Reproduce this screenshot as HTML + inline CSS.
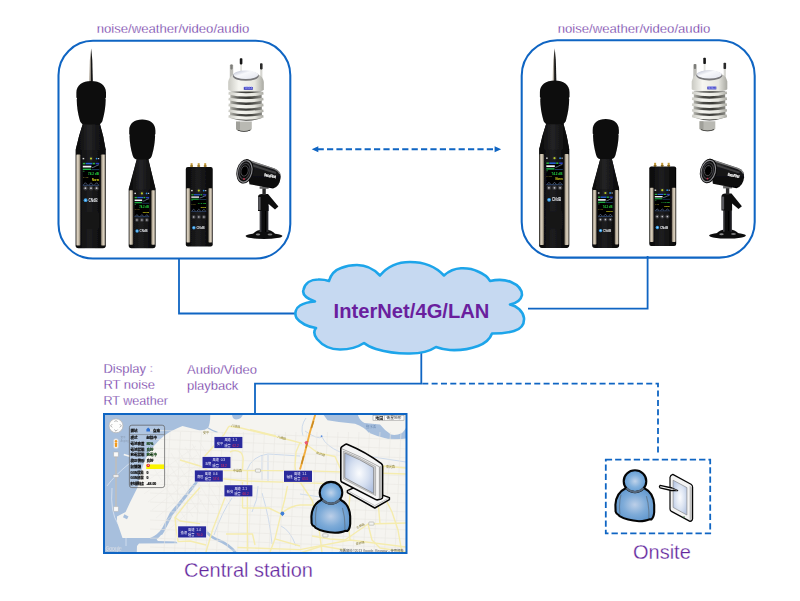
<!DOCTYPE html>
<html lang="en"><head><meta charset="utf-8"><title>Monitoring network</title>
<style>
html,body{margin:0;padding:0;background:#fff;}
body{width:800px;height:601px;overflow:hidden;font-family:"Liberation Sans","Noto Sans CJK TC",sans-serif;}
svg{display:block;}
text{font-family:"Liberation Sans","Noto Sans CJK TC",sans-serif;}
.lbl{fill:#62259c;stroke:#fff;stroke-width:0.28px;}
</style></head><body>
<svg width="800" height="601" viewBox="0 0 800 601">
<rect width="800" height="601" fill="#fff"/>
<g fill="none" stroke="#0f65c3" stroke-width="1.8">
<path d="M179 258 V313.5 H296"/>
<path d="M647.6 256 V308.6 H528"/>
<path d="M421.3 350 V383.7 H255 V413"/>
<path d="M421.3 383.7 H658 V456" stroke-dasharray="6 3.33" stroke-dashoffset="-1"/>
<rect x="605.8" y="459.6" width="104.4" height="73.8" stroke-dasharray="6.3 3.03"/>
</g>
<g fill="none" stroke="#0f65c3" stroke-width="2.05">
<rect x="58.5" y="40.8" width="231.8" height="217.7" rx="34.5" ry="34.5"/>
<rect x="521.7" y="40.2" width="233" height="217.4" rx="35.5" ry="35.5"/>
<path d="M317.6 149.25 H496" stroke-dasharray="6.2 3.2" stroke-width="1.9"/>
</g>
<path d="M311.7 149.25 l6.6 -3 v6z M501.2 149.25 l-6.6 -3 v6z" fill="#0f65c3"/>
<path d="M315 301.5 C308 299 302 295 303.4 290 C305 283 311 279.5 318 279.5 C322 279.3 326 280 329 281 C331 274 335 270 341 268 C347 265.5 352 265 357 265 C366 265 374 269 380 275.5 C387 267 397 262 410 262 C424 262 436 267 444 275.5 C449 271 454 268.6 461 268.3 C468 268 473 269 478 271.5 C484 274 488 277 490 281 C497 279.5 505 279.5 511 282 C518 285 522 289 522 295 C521 300 517 303 510 304.5 C517 306 523 311 524 318 C524.5 325 521 329 514 331 C507 333 500 333.5 492 333.5 C490 339 486 343 478 346 C470 349 460 350.5 450 350 C445 349.7 440 348.5 436 347 C430 351 420 353.5 410 353.5 C398 353.8 386 352 376 349 C371 347.5 367 345.5 364 343 C358 347 350 349.5 340 349.5 C330 349.5 322 345 317 339 C314 335 313.5 331 316 328 C308 327 300 323 296.5 318 C294 313 296 308 300 305.5 C304 303 309 302 315 301.5 Z" fill="#c6d9f1" stroke="#1da5ea" stroke-width="2.6" stroke-linejoin="round"/>
<text x="333.6" y="317.5" textLength="155.8" lengthAdjust="spacingAndGlyphs" font-size="20.2" font-weight="bold" fill="#6a1f9e">InterNet/4G/LAN</text>
<g class="lbl" font-size="13.2">
<text x="96.7" y="32.6" textLength="152.5" lengthAdjust="spacingAndGlyphs">noise/weather/video/audio</text>
<text x="557.7" y="32.6" textLength="152.5" lengthAdjust="spacingAndGlyphs">noise/weather/video/audio</text>
</g>
<g class="lbl" font-size="13">
<text x="103.4" y="373">Display<tspan font-size="8.2" dx="1.2" dy="-0.8">：</tspan></text>
<text x="103.4" y="389.2">RT noise</text>
<text x="103.4" y="405.2" textLength="64.6" lengthAdjust="spacingAndGlyphs">RT weather</text>
<text x="187" y="374.2">Audio/Video</text>
<text x="187" y="389.6">playback</text>
</g>
<g class="lbl" font-size="20">
<text x="184" y="577">Central station</text>
<text x="633" y="559">Onsite</text>
</g>
<defs>
<linearGradient id="gSilL" x1="0" x2="1" y1="0" y2="0"><stop offset="0" stop-color="#6b655b"/><stop offset="0.35" stop-color="#ded4c3"/><stop offset="0.7" stop-color="#bdb29e"/><stop offset="1" stop-color="#5f594f"/></linearGradient>
<linearGradient id="gSilR" x1="0" x2="1" y1="0" y2="0"><stop offset="0" stop-color="#5f594f"/><stop offset="0.3" stop-color="#bdb29e"/><stop offset="0.65" stop-color="#ded4c3"/><stop offset="1" stop-color="#6b655b"/></linearGradient>
<linearGradient id="gBody" x1="0" x2="1" y1="0" y2="0"><stop offset="0" stop-color="#060606"/><stop offset="0.45" stop-color="#1e1e20"/><stop offset="1" stop-color="#050505"/></linearGradient>
<linearGradient id="gCone" x1="0" x2="1" y1="0" y2="0"><stop offset="0" stop-color="#080808"/><stop offset="0.45" stop-color="#242426"/><stop offset="1" stop-color="#060606"/></linearGradient>
<linearGradient id="gSpike" x1="0" x2="1" y1="0" y2="0"><stop offset="0" stop-color="#d9d2c6"/><stop offset="0.45" stop-color="#8b857c"/><stop offset="0.55" stop-color="#111"/><stop offset="1" stop-color="#222"/></linearGradient>
<radialGradient id="gFoam" cx="0.5" cy="0.45" r="0.6"><stop offset="0" stop-color="#161616"/><stop offset="1" stop-color="#040404"/></radialGradient>
<filter id="soft" x="-5%" y="-5%" width="110%" height="110%"><feGaussianBlur stdDeviation="0.35"/></filter>
<filter id="soft2" x="-5%" y="-5%" width="110%" height="110%"><feGaussianBlur stdDeviation="0.25"/></filter>
</defs>
<g><g filter="url(#soft)">
<path d="M91.2 48.6 L92.3 60 L92.9 81.5 L88.9 81.5 L89.8 60 Z" fill="url(#gSpike)"/>
<path d="M83.4 122 L99.4 122 Q103.6 136 105.8 150 L105.8 245.5 Q105.8 248.3 103 248.3 L78.4 248.3 Q75.6 248.3 75.6 245.5 L75.6 150 Q78.6 136 83.4 122 Z" fill="url(#gBody)"/>
<path d="M83.4 122 L99.4 122 Q103.6 136 105.6 150 L75.8 150 Q78.6 136 83.4 122 Z" fill="url(#gCone)"/>
<path d="M91.2 80.9 C100 80.9 106 85 106 92.6 L106 97.4 L105.3 98.5 L105.7 99.6 C105.6 107 104.4 114 102.8 119.6 Q102 123.8 98.6 124.6 L83.8 124.6 Q80.4 123.8 79.6 119.6 C78 114 76.8 107 76.7 99.6 L77.1 98.5 L76.4 97.4 L76.4 92.6 C76.4 85 82.4 80.9 91.2 80.9 Z" fill="#0a0a0a"/>
<rect x="76.00" y="154.50" width="4.53" height="91.00" rx="0.8" fill="url(#gSilL)"/>
<rect x="100.87" y="154.50" width="4.53" height="91.00" rx="0.8" fill="url(#gSilR)"/>
<rect x="82.60" y="157.90" width="1.6" height="1.4" fill="#d8d8d8"/>
<circle cx="91.00" cy="158.60" r="2.4" fill="#242427"/>
<circle cx="91.00" cy="158.60" r="1.1" fill="#b5c72a"/>
<circle cx="96.60" cy="158.60" r="0.9" fill="#2f8fe0"/>
<rect x="98.00" y="158.00" width="1.2" height="1.2" fill="#bfc4cc"/>
<rect x="82.80" y="162.80" width="16.40" height="22.40" fill="#020204"/>
<rect x="82.80" y="162.80" width="2.62" height="1.57" fill="#2fb344"/>
<rect x="85.75" y="162.80" width="6.56" height="1.57" fill="#2a63d8"/>
<rect x="92.64" y="162.80" width="2.30" height="1.57" fill="#2fb344"/>
<rect x="95.59" y="162.80" width="3.61" height="1.57" fill="#2a3fc0"/>
<rect x="82.80" y="165.71" width="8.53" height="1.79" fill="#f4f6fa"/>
<rect x="82.80" y="168.62" width="8.20" height="1.34" fill="#22c04a"/>
<path d="M91.98 167.73 q1.97 -0.45 3.28 -1.34 t3.61 -1.57" fill="none" stroke="#7f97b0" stroke-width="0.7"/>
<rect x="91.33" y="169.52" width="7.87" height="0.56" fill="#3b6ea8"/>
<rect x="82.80" y="170.86" width="1.64" height="0.67" fill="#2a9d3f"/>
<text x="99.04" y="175.34" font-size="3.14" font-weight="bold" text-anchor="end" fill="#23d13c">74.2 dB</text>
<text x="82.96" y="177.58" font-size="2.24" fill="#b7a42a">LAeq</text>
<text x="99.04" y="180.72" font-size="2.69" font-weight="bold" text-anchor="end" fill="#e8e21c">Norm</text>
<path d="M83.46 184.80 L85.42 182.74 L87.39 184.80" fill="none" stroke="#7f93b8" stroke-width="0.55"/>
<path d="M89.03 184.80 L91.00 182.74 L92.97 184.80" fill="none" stroke="#7f93b8" stroke-width="0.55"/>
<path d="M94.61 184.80 L96.58 182.74 L98.54 184.80" fill="none" stroke="#7f93b8" stroke-width="0.55"/>
<rect x="82.80" y="184.86" width="16.40" height="0.67" fill="#3f5f93"/>
<circle cx="85.42" cy="188.20" r="2.21" fill="#3d3d41"/>
<circle cx="85.42" cy="188.20" r="0.90" fill="#c4c4c8"/>
<circle cx="91.00" cy="188.20" r="2.21" fill="#3d3d41"/>
<circle cx="91.00" cy="188.20" r="0.90" fill="#c4c4c8"/>
<circle cx="96.58" cy="188.20" r="2.21" fill="#3d3d41"/>
<circle cx="96.58" cy="188.20" r="0.90" fill="#c4c4c8"/>
<circle cx="85.59" cy="200.20" r="1.89" fill="#3aa0e8"/>
<circle cx="85.59" cy="200.20" r="0.82" fill="#9fd4ff"/>
<text x="88.38" y="201.84" font-size="4.43" font-weight="bold" fill="#e8eaee" textLength="9.18" lengthAdjust="spacingAndGlyphs">CNdB</text>
<rect x="83.2" y="212" width="15.4" height="17" rx="2" fill="#131315" stroke="#1c1c1e" stroke-width="0.5"/>
<path d="M137.4 157 L147.8 157 L155.6 189 L155.6 245.6 Q155.6 248.3 152.9 248.3 L131.4 248.3 Q128.7 248.3 128.7 245.6 L128.7 189 Z" fill="url(#gBody)"/>
<path d="M137.4 157 L147.8 157 L155.4 189.5 L128.9 189.5 Z" fill="url(#gCone)"/>
<path d="M142.2 119.5 C149.8 119.5 155.4 123.2 155.4 130.4 L155.4 134 L154.8 135 L155.1 136 C155 142 153.8 149 152.2 154.6 Q151.4 158.6 148.4 159.4 L136.2 159.4 Q133.2 158.6 132.4 154.6 C130.8 149 129.6 142 129.5 136 L129.8 135 L129.2 134 L129.2 130.4 C129.2 123.2 134.6 119.5 142.2 119.5 Z" fill="#0a0a0a"/>
<rect x="129.10" y="190.30" width="4.04" height="54.50" rx="0.8" fill="url(#gSilL)"/>
<rect x="151.16" y="190.30" width="4.04" height="54.50" rx="0.8" fill="url(#gSilR)"/>
<rect x="134.40" y="192.70" width="1.6" height="1.4" fill="#d8d8d8"/>
<circle cx="141.90" cy="193.40" r="2.4" fill="#242427"/>
<circle cx="141.90" cy="193.40" r="1.1" fill="#b5c72a"/>
<circle cx="146.60" cy="193.40" r="0.9" fill="#2f8fe0"/>
<rect x="148.00" y="192.80" width="1.2" height="1.2" fill="#bfc4cc"/>
<rect x="134.60" y="196.90" width="14.60" height="19.90" fill="#020204"/>
<rect x="134.60" y="196.90" width="2.34" height="1.39" fill="#2fb344"/>
<rect x="137.23" y="196.90" width="5.84" height="1.39" fill="#2a63d8"/>
<rect x="143.36" y="196.90" width="2.04" height="1.39" fill="#2fb344"/>
<rect x="145.99" y="196.90" width="3.21" height="1.39" fill="#2a3fc0"/>
<rect x="134.60" y="199.49" width="7.59" height="1.59" fill="#f4f6fa"/>
<rect x="134.60" y="202.07" width="7.30" height="1.19" fill="#22c04a"/>
<path d="M142.78 201.28 q1.75 -0.40 2.92 -1.19 t3.21 -1.39" fill="none" stroke="#7f97b0" stroke-width="0.7"/>
<rect x="142.19" y="202.87" width="7.01" height="0.50" fill="#3b6ea8"/>
<rect x="134.60" y="204.06" width="1.46" height="0.60" fill="#2a9d3f"/>
<text x="149.05" y="208.04" font-size="2.79" font-weight="bold" text-anchor="end" fill="#23d13c">74.2 dB</text>
<text x="134.75" y="210.03" font-size="1.99" fill="#b7a42a">LAeq</text>
<text x="149.05" y="212.82" font-size="2.39" font-weight="bold" text-anchor="end" fill="#e8e21c">Norm</text>
<path d="M135.18 216.40 L136.94 214.61 L138.69 216.40" fill="none" stroke="#7f93b8" stroke-width="0.55"/>
<path d="M140.15 216.40 L141.90 214.61 L143.65 216.40" fill="none" stroke="#7f93b8" stroke-width="0.55"/>
<path d="M145.11 216.40 L146.86 214.61 L148.62 216.40" fill="none" stroke="#7f93b8" stroke-width="0.55"/>
<rect x="134.60" y="216.50" width="14.60" height="0.60" fill="#3f5f93"/>
<circle cx="136.94" cy="220.00" r="1.97" fill="#3d3d41"/>
<circle cx="136.94" cy="220.00" r="0.80" fill="#c4c4c8"/>
<circle cx="141.90" cy="220.00" r="1.97" fill="#3d3d41"/>
<circle cx="141.90" cy="220.00" r="0.80" fill="#c4c4c8"/>
<circle cx="146.86" cy="220.00" r="1.97" fill="#3d3d41"/>
<circle cx="146.86" cy="220.00" r="0.80" fill="#c4c4c8"/>
<circle cx="137.08" cy="231.00" r="1.68" fill="#3aa0e8"/>
<circle cx="137.08" cy="231.00" r="0.73" fill="#9fd4ff"/>
<text x="139.56" y="232.46" font-size="3.94" font-weight="bold" fill="#e8eaee" textLength="8.18" lengthAdjust="spacingAndGlyphs">CNdB</text>
<rect x="190.60" y="163.2" width="2" height="4.2" fill="#c39a3a"/>
<rect x="190.20" y="165.4" width="2.8" height="1.2" fill="#8a6a20"/>
<rect x="197.70" y="163.2" width="2" height="4.2" fill="#c39a3a"/>
<rect x="197.30" y="165.4" width="2.8" height="1.2" fill="#8a6a20"/>
<rect x="204.20" y="163.2" width="2" height="4.2" fill="#c39a3a"/>
<rect x="203.80" y="165.4" width="2.8" height="1.2" fill="#8a6a20"/>
<rect x="185.8" y="166.9" width="26.9" height="79.6" rx="2" fill="url(#gBody)"/>
<rect x="186.20" y="188.20" width="4.03" height="54.30" rx="0.8" fill="url(#gSilL)"/>
<rect x="208.26" y="188.20" width="4.03" height="54.30" rx="0.8" fill="url(#gSilR)"/>
<rect x="191.10" y="189.90" width="1.6" height="1.4" fill="#d8d8d8"/>
<circle cx="198.80" cy="190.60" r="2.4" fill="#242427"/>
<circle cx="198.80" cy="190.60" r="1.1" fill="#b5c72a"/>
<circle cx="203.70" cy="190.60" r="0.9" fill="#2f8fe0"/>
<rect x="205.10" y="190.00" width="1.2" height="1.2" fill="#bfc4cc"/>
<rect x="191.30" y="194.20" width="15.00" height="17.10" fill="#020204"/>
<rect x="191.30" y="194.20" width="2.40" height="1.20" fill="#2fb344"/>
<rect x="194.00" y="194.20" width="6.00" height="1.20" fill="#2a63d8"/>
<rect x="200.30" y="194.20" width="2.10" height="1.20" fill="#2fb344"/>
<rect x="203.00" y="194.20" width="3.30" height="1.20" fill="#2a3fc0"/>
<rect x="191.30" y="196.42" width="7.80" height="1.37" fill="#f4f6fa"/>
<rect x="191.30" y="198.65" width="7.50" height="1.03" fill="#22c04a"/>
<path d="M199.70 197.96 q1.80 -0.34 3.00 -1.03 t3.30 -1.20" fill="none" stroke="#7f97b0" stroke-width="0.7"/>
<rect x="199.10" y="199.33" width="7.20" height="0.43" fill="#3b6ea8"/>
<rect x="191.30" y="200.36" width="1.50" height="0.51" fill="#2a9d3f"/>
<text x="206.15" y="203.78" font-size="2.39" font-weight="bold" text-anchor="end" fill="#23d13c">74.2 dB</text>
<text x="191.45" y="205.49" font-size="1.71" fill="#b7a42a">LAeq</text>
<text x="206.15" y="207.88" font-size="2.05" font-weight="bold" text-anchor="end" fill="#e8e21c">Norm</text>
<path d="M191.90 210.90 L193.70 209.42 L195.50 210.90" fill="none" stroke="#7f93b8" stroke-width="0.55"/>
<path d="M197.00 210.90 L198.80 209.42 L200.60 210.90" fill="none" stroke="#7f93b8" stroke-width="0.55"/>
<path d="M202.10 210.90 L203.90 209.42 L205.70 210.90" fill="none" stroke="#7f93b8" stroke-width="0.55"/>
<rect x="191.30" y="211.04" width="15.00" height="0.51" fill="#3f5f93"/>
<circle cx="193.70" cy="217.00" r="2.03" fill="#3d3d41"/>
<circle cx="193.70" cy="217.00" r="0.82" fill="#c4c4c8"/>
<circle cx="198.80" cy="217.00" r="2.03" fill="#3d3d41"/>
<circle cx="198.80" cy="217.00" r="0.82" fill="#c4c4c8"/>
<circle cx="203.90" cy="217.00" r="2.03" fill="#3d3d41"/>
<circle cx="203.90" cy="217.00" r="0.82" fill="#c4c4c8"/>
<circle cx="193.85" cy="227.80" r="1.73" fill="#3aa0e8"/>
<circle cx="193.85" cy="227.80" r="0.75" fill="#9fd4ff"/>
<text x="196.40" y="229.30" font-size="4.05" font-weight="bold" fill="#e8eaee" textLength="8.40" lengthAdjust="spacingAndGlyphs">CNdB</text>
<linearGradient id="gW" x1="0" x2="1" y1="0" y2="0"><stop offset="0" stop-color="#c9c9c2"/><stop offset="0.3" stop-color="#f6f6f1"/><stop offset="0.75" stop-color="#e6e6df"/><stop offset="1" stop-color="#a9a9a2"/></linearGradient>
<linearGradient id="gWd" x1="0" x2="1" y1="0" y2="1"><stop offset="0" stop-color="#b4b9cc"/><stop offset="0.4" stop-color="#f7f8fb"/><stop offset="1" stop-color="#e3e5ee"/></linearGradient>
<rect x="229.8" y="64.4" width="3.4" height="18" rx="1" fill="#bdbdb8"/>
<rect x="230.4" y="64.4" width="2.2" height="5" rx="0.8" fill="#7d7d7a"/>
<rect x="240.2" y="63" width="1.8" height="10" fill="#e4e4e0"/>
<rect x="239.8" y="58.2" width="2.6" height="6.2" rx="0.8" fill="#151515"/>
<rect x="260.2" y="68" width="2.2" height="14" fill="#d6d6d1"/>
<rect x="260" y="63.2" width="2.6" height="6.2" rx="0.8" fill="#2a2a2a"/>
<path d="M228.2 82 Q229 77 233.6 74.6 L258.4 74.6 Q263 77 263.8 82 L263.8 89.4 Q263.6 91.8 246 92.6 Q228.4 91.8 228.2 89.4 Z" fill="url(#gW)"/>
<ellipse cx="245.8" cy="76" rx="13" ry="4.8" fill="#77777a"/>
<ellipse cx="245.8" cy="74.8" rx="12.4" ry="4.2" fill="url(#gWd)"/>
<rect x="243.8" y="87" width="9" height="2.8" fill="#3838b4"/>
<text x="244.4" y="89.3" font-size="2.6" font-weight="bold" fill="#9fa6ff" textLength="7.8" lengthAdjust="spacingAndGlyphs">VAISALA</text>
<linearGradient id="gFd" x1="0" x2="1" y1="0" y2="0"><stop offset="0" stop-color="#b5b5ae"/><stop offset="0.3" stop-color="#4a4a46"/><stop offset="0.6" stop-color="#3a3a36"/><stop offset="1" stop-color="#8a8a84"/></linearGradient>
<path d="M230.4 91.6 L261.6 91.6 L262 118 Q246 123.6 230 118 Z" fill="url(#gFd)"/>
<path d="M228.8 91.8 Q246 94.6 263.2 91.8 L263.6 94.4 Q246 98.8 228.4 94.4 Z" fill="url(#gW)"/>
<path d="M228.8 97.7 Q246 100.5 263.2 97.7 L263.6 100.3 Q246 104.7 228.4 100.3 Z" fill="url(#gW)"/>
<path d="M228.8 103.6 Q246 106.4 263.2 103.6 L263.6 106.2 Q246 110.6 228.4 106.2 Z" fill="url(#gW)"/>
<path d="M228.8 109.4 Q246 112.2 263.2 109.4 L263.6 112.0 Q246 116.4 228.4 112.0 Z" fill="url(#gW)"/>
<path d="M228.8 115.0 Q246 117.8 263.2 115.0 L263.6 117.6 Q246 122.0 228.4 117.6 Z" fill="url(#gW)"/>
<path d="M236 121.6 L251.8 121.6 L251.8 128.6 Q251.8 131.6 244 131.6 Q236 131.6 236 128.6 Z" fill="#b9b9b3"/>
<path d="M237.4 129.4 Q244 132.6 250.6 129.4 L250.2 130.4 Q244 133 237.8 130.4 Z" fill="#2a2a28"/>
<rect x="236" y="121.6" width="4" height="8" fill="#8f8f89" opacity="0.6"/>
<linearGradient id="gCam" x1="0" x2="0" y1="0" y2="1"><stop offset="0" stop-color="#4a4a4c"/><stop offset="0.3" stop-color="#1a1a1c"/><stop offset="1" stop-color="#050505"/></linearGradient>
<linearGradient id="gPole" x1="0" x2="1" y1="0" y2="0"><stop offset="0" stop-color="#55555a"/><stop offset="0.3" stop-color="#0a0a0a"/><stop offset="0.7" stop-color="#050505"/><stop offset="1" stop-color="#3a3a3e"/></linearGradient>
<ellipse cx="264" cy="236" rx="18.4" ry="3" fill="#0a0a0a"/>
<path d="M252 235 Q256 229.6 264 229.6 Q272 229.6 276 235 Z" fill="#111"/>
<ellipse cx="258" cy="234.6" rx="2.2" ry="1" fill="#8a8a8a"/>
<ellipse cx="270" cy="234.4" rx="2.4" ry="1" fill="#7a7a7a"/>
<rect x="259.6" y="206" width="8.8" height="26" fill="url(#gPole)"/>
<path d="M258 197 Q258 194 262 194 L268 194 L278.4 206.6 L275 209.4 L268.6 204 L268.6 211 L258 211 Z" fill="#0c0c0c"/>
<rect x="258.2" y="197" width="2.4" height="13" fill="#5a5a5e"/>
<rect x="262.4" y="186" width="3.4" height="9" fill="#2a2a2a"/>
<rect x="259.6" y="186.4" width="9" height="2.4" fill="#6a6a6a"/>
<path d="M246 159 L274.6 168.4 Q281.4 171 280.6 178 Q279.6 186.6 273 188.6 L249.4 184.2 Z" fill="url(#gCam)"/>
<path d="M248 160.4 L274.4 169 Q278.6 170.6 280 174" fill="none" stroke="#a0a0a0" stroke-width="1.3" opacity="0.75"/>
<path d="M251 165 L276 173" fill="none" stroke="#5a5a5c" stroke-width="2" opacity="0.6"/>
<ellipse cx="245" cy="171.4" rx="8.4" ry="12.4" transform="rotate(14 245 171.4)" fill="#0a0a0a"/>
<ellipse cx="244.8" cy="171.4" rx="7" ry="10.8" transform="rotate(14 244.8 171.4)" fill="none" stroke="#8a8a8e" stroke-width="1.2"/>
<ellipse cx="244.7" cy="171.2" rx="5.2" ry="8" transform="rotate(14 244.7 171.2)" fill="none" stroke="#3e3e42" stroke-width="1.2"/>
<ellipse cx="244.6" cy="171" rx="3.6" ry="5.2" transform="rotate(14 244.6 171)" fill="#050505" stroke="#4c4c50" stroke-width="0.9"/>
<circle cx="244" cy="179" r="0.9" fill="#c0304a"/>
<text x="264" y="176" font-size="4" font-weight="bold" fill="#f4f4f4" stroke="#f4f4f4" stroke-width="0.3" textLength="11.8" lengthAdjust="spacingAndGlyphs" transform="rotate(11 264 176)">SecuFirst</text>
</g></g>
<g transform="translate(463.5,-0.4)"><g filter="url(#soft)">
<path d="M91.2 48.6 L92.3 60 L92.9 81.5 L88.9 81.5 L89.8 60 Z" fill="url(#gSpike)"/>
<path d="M83.4 122 L99.4 122 Q103.6 136 105.8 150 L105.8 245.5 Q105.8 248.3 103 248.3 L78.4 248.3 Q75.6 248.3 75.6 245.5 L75.6 150 Q78.6 136 83.4 122 Z" fill="url(#gBody)"/>
<path d="M83.4 122 L99.4 122 Q103.6 136 105.6 150 L75.8 150 Q78.6 136 83.4 122 Z" fill="url(#gCone)"/>
<path d="M91.2 80.9 C100 80.9 106 85 106 92.6 L106 97.4 L105.3 98.5 L105.7 99.6 C105.6 107 104.4 114 102.8 119.6 Q102 123.8 98.6 124.6 L83.8 124.6 Q80.4 123.8 79.6 119.6 C78 114 76.8 107 76.7 99.6 L77.1 98.5 L76.4 97.4 L76.4 92.6 C76.4 85 82.4 80.9 91.2 80.9 Z" fill="#0a0a0a"/>
<rect x="76.00" y="154.50" width="4.53" height="91.00" rx="0.8" fill="url(#gSilL)"/>
<rect x="100.87" y="154.50" width="4.53" height="91.00" rx="0.8" fill="url(#gSilR)"/>
<rect x="82.60" y="157.90" width="1.6" height="1.4" fill="#d8d8d8"/>
<circle cx="91.00" cy="158.60" r="2.4" fill="#242427"/>
<circle cx="91.00" cy="158.60" r="1.1" fill="#b5c72a"/>
<circle cx="96.60" cy="158.60" r="0.9" fill="#2f8fe0"/>
<rect x="98.00" y="158.00" width="1.2" height="1.2" fill="#bfc4cc"/>
<rect x="82.80" y="162.80" width="16.40" height="22.40" fill="#020204"/>
<rect x="82.80" y="162.80" width="2.62" height="1.57" fill="#2fb344"/>
<rect x="85.75" y="162.80" width="6.56" height="1.57" fill="#2a63d8"/>
<rect x="92.64" y="162.80" width="2.30" height="1.57" fill="#2fb344"/>
<rect x="95.59" y="162.80" width="3.61" height="1.57" fill="#2a3fc0"/>
<rect x="82.80" y="165.71" width="8.53" height="1.79" fill="#f4f6fa"/>
<rect x="82.80" y="168.62" width="8.20" height="1.34" fill="#22c04a"/>
<path d="M91.98 167.73 q1.97 -0.45 3.28 -1.34 t3.61 -1.57" fill="none" stroke="#7f97b0" stroke-width="0.7"/>
<rect x="91.33" y="169.52" width="7.87" height="0.56" fill="#3b6ea8"/>
<rect x="82.80" y="170.86" width="1.64" height="0.67" fill="#2a9d3f"/>
<text x="99.04" y="175.34" font-size="3.14" font-weight="bold" text-anchor="end" fill="#23d13c">74.2 dB</text>
<text x="82.96" y="177.58" font-size="2.24" fill="#b7a42a">LAeq</text>
<text x="99.04" y="180.72" font-size="2.69" font-weight="bold" text-anchor="end" fill="#e8e21c">Norm</text>
<path d="M83.46 184.80 L85.42 182.74 L87.39 184.80" fill="none" stroke="#7f93b8" stroke-width="0.55"/>
<path d="M89.03 184.80 L91.00 182.74 L92.97 184.80" fill="none" stroke="#7f93b8" stroke-width="0.55"/>
<path d="M94.61 184.80 L96.58 182.74 L98.54 184.80" fill="none" stroke="#7f93b8" stroke-width="0.55"/>
<rect x="82.80" y="184.86" width="16.40" height="0.67" fill="#3f5f93"/>
<circle cx="85.42" cy="188.20" r="2.21" fill="#3d3d41"/>
<circle cx="85.42" cy="188.20" r="0.90" fill="#c4c4c8"/>
<circle cx="91.00" cy="188.20" r="2.21" fill="#3d3d41"/>
<circle cx="91.00" cy="188.20" r="0.90" fill="#c4c4c8"/>
<circle cx="96.58" cy="188.20" r="2.21" fill="#3d3d41"/>
<circle cx="96.58" cy="188.20" r="0.90" fill="#c4c4c8"/>
<circle cx="85.59" cy="200.20" r="1.89" fill="#3aa0e8"/>
<circle cx="85.59" cy="200.20" r="0.82" fill="#9fd4ff"/>
<text x="88.38" y="201.84" font-size="4.43" font-weight="bold" fill="#e8eaee" textLength="9.18" lengthAdjust="spacingAndGlyphs">CNdB</text>
<rect x="83.2" y="212" width="15.4" height="17" rx="2" fill="#131315" stroke="#1c1c1e" stroke-width="0.5"/>
<path d="M137.4 157 L147.8 157 L155.6 189 L155.6 245.6 Q155.6 248.3 152.9 248.3 L131.4 248.3 Q128.7 248.3 128.7 245.6 L128.7 189 Z" fill="url(#gBody)"/>
<path d="M137.4 157 L147.8 157 L155.4 189.5 L128.9 189.5 Z" fill="url(#gCone)"/>
<path d="M142.2 119.5 C149.8 119.5 155.4 123.2 155.4 130.4 L155.4 134 L154.8 135 L155.1 136 C155 142 153.8 149 152.2 154.6 Q151.4 158.6 148.4 159.4 L136.2 159.4 Q133.2 158.6 132.4 154.6 C130.8 149 129.6 142 129.5 136 L129.8 135 L129.2 134 L129.2 130.4 C129.2 123.2 134.6 119.5 142.2 119.5 Z" fill="#0a0a0a"/>
<rect x="129.10" y="190.30" width="4.04" height="54.50" rx="0.8" fill="url(#gSilL)"/>
<rect x="151.16" y="190.30" width="4.04" height="54.50" rx="0.8" fill="url(#gSilR)"/>
<rect x="134.40" y="192.70" width="1.6" height="1.4" fill="#d8d8d8"/>
<circle cx="141.90" cy="193.40" r="2.4" fill="#242427"/>
<circle cx="141.90" cy="193.40" r="1.1" fill="#b5c72a"/>
<circle cx="146.60" cy="193.40" r="0.9" fill="#2f8fe0"/>
<rect x="148.00" y="192.80" width="1.2" height="1.2" fill="#bfc4cc"/>
<rect x="134.60" y="196.90" width="14.60" height="19.90" fill="#020204"/>
<rect x="134.60" y="196.90" width="2.34" height="1.39" fill="#2fb344"/>
<rect x="137.23" y="196.90" width="5.84" height="1.39" fill="#2a63d8"/>
<rect x="143.36" y="196.90" width="2.04" height="1.39" fill="#2fb344"/>
<rect x="145.99" y="196.90" width="3.21" height="1.39" fill="#2a3fc0"/>
<rect x="134.60" y="199.49" width="7.59" height="1.59" fill="#f4f6fa"/>
<rect x="134.60" y="202.07" width="7.30" height="1.19" fill="#22c04a"/>
<path d="M142.78 201.28 q1.75 -0.40 2.92 -1.19 t3.21 -1.39" fill="none" stroke="#7f97b0" stroke-width="0.7"/>
<rect x="142.19" y="202.87" width="7.01" height="0.50" fill="#3b6ea8"/>
<rect x="134.60" y="204.06" width="1.46" height="0.60" fill="#2a9d3f"/>
<text x="149.05" y="208.04" font-size="2.79" font-weight="bold" text-anchor="end" fill="#23d13c">74.2 dB</text>
<text x="134.75" y="210.03" font-size="1.99" fill="#b7a42a">LAeq</text>
<text x="149.05" y="212.82" font-size="2.39" font-weight="bold" text-anchor="end" fill="#e8e21c">Norm</text>
<path d="M135.18 216.40 L136.94 214.61 L138.69 216.40" fill="none" stroke="#7f93b8" stroke-width="0.55"/>
<path d="M140.15 216.40 L141.90 214.61 L143.65 216.40" fill="none" stroke="#7f93b8" stroke-width="0.55"/>
<path d="M145.11 216.40 L146.86 214.61 L148.62 216.40" fill="none" stroke="#7f93b8" stroke-width="0.55"/>
<rect x="134.60" y="216.50" width="14.60" height="0.60" fill="#3f5f93"/>
<circle cx="136.94" cy="220.00" r="1.97" fill="#3d3d41"/>
<circle cx="136.94" cy="220.00" r="0.80" fill="#c4c4c8"/>
<circle cx="141.90" cy="220.00" r="1.97" fill="#3d3d41"/>
<circle cx="141.90" cy="220.00" r="0.80" fill="#c4c4c8"/>
<circle cx="146.86" cy="220.00" r="1.97" fill="#3d3d41"/>
<circle cx="146.86" cy="220.00" r="0.80" fill="#c4c4c8"/>
<circle cx="137.08" cy="231.00" r="1.68" fill="#3aa0e8"/>
<circle cx="137.08" cy="231.00" r="0.73" fill="#9fd4ff"/>
<text x="139.56" y="232.46" font-size="3.94" font-weight="bold" fill="#e8eaee" textLength="8.18" lengthAdjust="spacingAndGlyphs">CNdB</text>
<rect x="190.60" y="163.2" width="2" height="4.2" fill="#c39a3a"/>
<rect x="190.20" y="165.4" width="2.8" height="1.2" fill="#8a6a20"/>
<rect x="197.70" y="163.2" width="2" height="4.2" fill="#c39a3a"/>
<rect x="197.30" y="165.4" width="2.8" height="1.2" fill="#8a6a20"/>
<rect x="204.20" y="163.2" width="2" height="4.2" fill="#c39a3a"/>
<rect x="203.80" y="165.4" width="2.8" height="1.2" fill="#8a6a20"/>
<rect x="185.8" y="166.9" width="26.9" height="79.6" rx="2" fill="url(#gBody)"/>
<rect x="186.20" y="188.20" width="4.03" height="54.30" rx="0.8" fill="url(#gSilL)"/>
<rect x="208.26" y="188.20" width="4.03" height="54.30" rx="0.8" fill="url(#gSilR)"/>
<rect x="191.10" y="189.90" width="1.6" height="1.4" fill="#d8d8d8"/>
<circle cx="198.80" cy="190.60" r="2.4" fill="#242427"/>
<circle cx="198.80" cy="190.60" r="1.1" fill="#b5c72a"/>
<circle cx="203.70" cy="190.60" r="0.9" fill="#2f8fe0"/>
<rect x="205.10" y="190.00" width="1.2" height="1.2" fill="#bfc4cc"/>
<rect x="191.30" y="194.20" width="15.00" height="17.10" fill="#020204"/>
<rect x="191.30" y="194.20" width="2.40" height="1.20" fill="#2fb344"/>
<rect x="194.00" y="194.20" width="6.00" height="1.20" fill="#2a63d8"/>
<rect x="200.30" y="194.20" width="2.10" height="1.20" fill="#2fb344"/>
<rect x="203.00" y="194.20" width="3.30" height="1.20" fill="#2a3fc0"/>
<rect x="191.30" y="196.42" width="7.80" height="1.37" fill="#f4f6fa"/>
<rect x="191.30" y="198.65" width="7.50" height="1.03" fill="#22c04a"/>
<path d="M199.70 197.96 q1.80 -0.34 3.00 -1.03 t3.30 -1.20" fill="none" stroke="#7f97b0" stroke-width="0.7"/>
<rect x="199.10" y="199.33" width="7.20" height="0.43" fill="#3b6ea8"/>
<rect x="191.30" y="200.36" width="1.50" height="0.51" fill="#2a9d3f"/>
<text x="206.15" y="203.78" font-size="2.39" font-weight="bold" text-anchor="end" fill="#23d13c">74.2 dB</text>
<text x="191.45" y="205.49" font-size="1.71" fill="#b7a42a">LAeq</text>
<text x="206.15" y="207.88" font-size="2.05" font-weight="bold" text-anchor="end" fill="#e8e21c">Norm</text>
<path d="M191.90 210.90 L193.70 209.42 L195.50 210.90" fill="none" stroke="#7f93b8" stroke-width="0.55"/>
<path d="M197.00 210.90 L198.80 209.42 L200.60 210.90" fill="none" stroke="#7f93b8" stroke-width="0.55"/>
<path d="M202.10 210.90 L203.90 209.42 L205.70 210.90" fill="none" stroke="#7f93b8" stroke-width="0.55"/>
<rect x="191.30" y="211.04" width="15.00" height="0.51" fill="#3f5f93"/>
<circle cx="193.70" cy="217.00" r="2.03" fill="#3d3d41"/>
<circle cx="193.70" cy="217.00" r="0.82" fill="#c4c4c8"/>
<circle cx="198.80" cy="217.00" r="2.03" fill="#3d3d41"/>
<circle cx="198.80" cy="217.00" r="0.82" fill="#c4c4c8"/>
<circle cx="203.90" cy="217.00" r="2.03" fill="#3d3d41"/>
<circle cx="203.90" cy="217.00" r="0.82" fill="#c4c4c8"/>
<circle cx="193.85" cy="227.80" r="1.73" fill="#3aa0e8"/>
<circle cx="193.85" cy="227.80" r="0.75" fill="#9fd4ff"/>
<text x="196.40" y="229.30" font-size="4.05" font-weight="bold" fill="#e8eaee" textLength="8.40" lengthAdjust="spacingAndGlyphs">CNdB</text>
<linearGradient id="gW2" x1="0" x2="1" y1="0" y2="0"><stop offset="0" stop-color="#c9c9c2"/><stop offset="0.3" stop-color="#f6f6f1"/><stop offset="0.75" stop-color="#e6e6df"/><stop offset="1" stop-color="#a9a9a2"/></linearGradient>
<linearGradient id="gWd2" x1="0" x2="1" y1="0" y2="1"><stop offset="0" stop-color="#b4b9cc"/><stop offset="0.4" stop-color="#f7f8fb"/><stop offset="1" stop-color="#e3e5ee"/></linearGradient>
<rect x="229.8" y="64.4" width="3.4" height="18" rx="1" fill="#bdbdb8"/>
<rect x="230.4" y="64.4" width="2.2" height="5" rx="0.8" fill="#7d7d7a"/>
<rect x="240.2" y="63" width="1.8" height="10" fill="#e4e4e0"/>
<rect x="239.8" y="58.2" width="2.6" height="6.2" rx="0.8" fill="#151515"/>
<rect x="260.2" y="68" width="2.2" height="14" fill="#d6d6d1"/>
<rect x="260" y="63.2" width="2.6" height="6.2" rx="0.8" fill="#2a2a2a"/>
<path d="M228.2 82 Q229 77 233.6 74.6 L258.4 74.6 Q263 77 263.8 82 L263.8 89.4 Q263.6 91.8 246 92.6 Q228.4 91.8 228.2 89.4 Z" fill="url(#gW)"/>
<ellipse cx="245.8" cy="76" rx="13" ry="4.8" fill="#77777a"/>
<ellipse cx="245.8" cy="74.8" rx="12.4" ry="4.2" fill="url(#gWd)"/>
<rect x="243.8" y="87" width="9" height="2.8" fill="#3838b4"/>
<text x="244.4" y="89.3" font-size="2.6" font-weight="bold" fill="#9fa6ff" textLength="7.8" lengthAdjust="spacingAndGlyphs">VAISALA</text>
<linearGradient id="gFd2" x1="0" x2="1" y1="0" y2="0"><stop offset="0" stop-color="#b5b5ae"/><stop offset="0.3" stop-color="#4a4a46"/><stop offset="0.6" stop-color="#3a3a36"/><stop offset="1" stop-color="#8a8a84"/></linearGradient>
<path d="M230.4 91.6 L261.6 91.6 L262 118 Q246 123.6 230 118 Z" fill="url(#gFd)"/>
<path d="M228.8 91.8 Q246 94.6 263.2 91.8 L263.6 94.4 Q246 98.8 228.4 94.4 Z" fill="url(#gW)"/>
<path d="M228.8 97.7 Q246 100.5 263.2 97.7 L263.6 100.3 Q246 104.7 228.4 100.3 Z" fill="url(#gW)"/>
<path d="M228.8 103.6 Q246 106.4 263.2 103.6 L263.6 106.2 Q246 110.6 228.4 106.2 Z" fill="url(#gW)"/>
<path d="M228.8 109.4 Q246 112.2 263.2 109.4 L263.6 112.0 Q246 116.4 228.4 112.0 Z" fill="url(#gW)"/>
<path d="M228.8 115.0 Q246 117.8 263.2 115.0 L263.6 117.6 Q246 122.0 228.4 117.6 Z" fill="url(#gW)"/>
<path d="M236 121.6 L251.8 121.6 L251.8 128.6 Q251.8 131.6 244 131.6 Q236 131.6 236 128.6 Z" fill="#b9b9b3"/>
<path d="M237.4 129.4 Q244 132.6 250.6 129.4 L250.2 130.4 Q244 133 237.8 130.4 Z" fill="#2a2a28"/>
<rect x="236" y="121.6" width="4" height="8" fill="#8f8f89" opacity="0.6"/>
<linearGradient id="gCam2" x1="0" x2="0" y1="0" y2="1"><stop offset="0" stop-color="#4a4a4c"/><stop offset="0.3" stop-color="#1a1a1c"/><stop offset="1" stop-color="#050505"/></linearGradient>
<linearGradient id="gPole2" x1="0" x2="1" y1="0" y2="0"><stop offset="0" stop-color="#55555a"/><stop offset="0.3" stop-color="#0a0a0a"/><stop offset="0.7" stop-color="#050505"/><stop offset="1" stop-color="#3a3a3e"/></linearGradient>
<ellipse cx="264" cy="236" rx="18.4" ry="3" fill="#0a0a0a"/>
<path d="M252 235 Q256 229.6 264 229.6 Q272 229.6 276 235 Z" fill="#111"/>
<ellipse cx="258" cy="234.6" rx="2.2" ry="1" fill="#8a8a8a"/>
<ellipse cx="270" cy="234.4" rx="2.4" ry="1" fill="#7a7a7a"/>
<rect x="259.6" y="206" width="8.8" height="26" fill="url(#gPole)"/>
<path d="M258 197 Q258 194 262 194 L268 194 L278.4 206.6 L275 209.4 L268.6 204 L268.6 211 L258 211 Z" fill="#0c0c0c"/>
<rect x="258.2" y="197" width="2.4" height="13" fill="#5a5a5e"/>
<rect x="262.4" y="186" width="3.4" height="9" fill="#2a2a2a"/>
<rect x="259.6" y="186.4" width="9" height="2.4" fill="#6a6a6a"/>
<path d="M246 159 L274.6 168.4 Q281.4 171 280.6 178 Q279.6 186.6 273 188.6 L249.4 184.2 Z" fill="url(#gCam)"/>
<path d="M248 160.4 L274.4 169 Q278.6 170.6 280 174" fill="none" stroke="#a0a0a0" stroke-width="1.3" opacity="0.75"/>
<path d="M251 165 L276 173" fill="none" stroke="#5a5a5c" stroke-width="2" opacity="0.6"/>
<ellipse cx="245" cy="171.4" rx="8.4" ry="12.4" transform="rotate(14 245 171.4)" fill="#0a0a0a"/>
<ellipse cx="244.8" cy="171.4" rx="7" ry="10.8" transform="rotate(14 244.8 171.4)" fill="none" stroke="#8a8a8e" stroke-width="1.2"/>
<ellipse cx="244.7" cy="171.2" rx="5.2" ry="8" transform="rotate(14 244.7 171.2)" fill="none" stroke="#3e3e42" stroke-width="1.2"/>
<ellipse cx="244.6" cy="171" rx="3.6" ry="5.2" transform="rotate(14 244.6 171)" fill="#050505" stroke="#4c4c50" stroke-width="0.9"/>
<circle cx="244" cy="179" r="0.9" fill="#c0304a"/>
<text x="264" y="176" font-size="4" font-weight="bold" fill="#f4f4f4" stroke="#f4f4f4" stroke-width="0.3" textLength="11.8" lengthAdjust="spacingAndGlyphs" transform="rotate(11 264 176)">SecuFirst</text>
</g></g>
<clipPath id="mapclip"><rect x="104" y="414" width="302.5" height="139"/></clipPath>
<g clip-path="url(#mapclip)"><g filter="url(#soft2)">
<rect x="100" y="410" width="312" height="148" fill="#f5f4f0"/>
<path d="M100 410 H210 Q211 422 208 428 Q204 431 198 430 L182.5 426 Q170 431 164.4 435.6 Q152 446 146 458 Q140 472 137.5 487.5 L130 502.5 L125.6 512 L117 516.6 L117 522 L122.5 538 L150 538 Q158 535 162.5 527.5 L170 512.5 L178 503 L192.5 485 L196 481 L198 482.6 L194.6 487 L181 504.6 L173 514.5 L166.6 527 Q162 535 156.6 539.5 L158 541 L176 541.4 L177.5 543.2 L139 543.6 L137 546 L136.6 558 H100 Z" fill="#a7bfdd"/>
<rect x="123.4" y="515.2" width="4.6" height="3.2" transform="rotate(28 125.7 516.8)" fill="#a7bfdd"/>
<path d="M159 533.6 L163.6 527.6 L166 529 L162 535 Z" fill="#a7bfdd"/>
<path d="M232 414 H243 Q242 419 236 419.6 Q232 419 232 414 Z" fill="#a7bfdd"/>
<path d="M208 428 Q213 431 217.5 432.4" fill="none" stroke="#a7bfdd" stroke-width="1.2"/>
<path d="M320 410 L327.5 420.3 Q340 422.6 355 423.8 Q364 427 368.8 432.7 Q377 436.4 388 438.9 Q399 440 410 438 L410 421 Q404 432 402 433 Q396 436 391 434.6 Q385 431 380 424.6 Q372 423.6 364.6 423 Q360 421 357.8 415 L357.6 410 Z" fill="#a7bfdd"/>
<path d="M205 530 Q210 537 218 540 Q228 543.6 236 553" fill="none" stroke="#a7bfdd" stroke-width="2.6"/>
<g fill="none" stroke="#c3d3ea" stroke-width="0.8"><path d="M247 470 Q252 456 268 454 L300 456"/><path d="M262 455 V480"/><path d="M268 455 V482"/><path d="M214 535 Q222 512 232 498"/><path d="M262 493 Q270 520 272 544"/><path d="M281 526 Q290 530 296 546"/><path d="M305 431 Q318 440 322 437 Q326 446 340 452"/><path d="M340 452 L406 462"/><path d="M300 494 L340 500"/><path d="M252 512 Q258 500 258 486"/><path d="M303 436 Q300 426 306 418"/></g>
<path d="M170.0 432 L164.0 553 M180.5 432 L174.5 553 M191.0 432 L185.0 553 M201.5 432 L195.5 553 M212.0 432 L206.0 553 M222.5 432 L216.5 553 M233.0 432 L227.0 553 M243.5 432 L237.5 553 M254.0 432 L248.0 553 M264.5 432 L258.5 553 M275.0 432 L269.0 553 M285.5 432 L279.5 553 M296.0 432 L290.0 553 M306.5 432 L300.5 553 M317.0 432 L311.0 553 M327.5 432 L321.5 553 M338.0 432 L332.0 553 M348.5 432 L342.5 553 M359.0 432 L353.0 553 M369.5 432 L363.5 553 M380.0 432 L374.0 553 M390.5 432 L384.5 553 M401.0 432 L395.0 553 M411.5 432 L405.5 553 M150 430.0 L410 440.0 M150 439.0 L410 449.0 M150 448.0 L410 458.0 M150 457.0 L410 467.0 M150 466.0 L410 476.0 M150 475.0 L410 485.0 M150 484.0 L410 494.0 M150 493.0 L410 503.0 M150 502.0 L410 512.0 M150 511.0 L410 521.0 M150 520.0 L410 530.0 M150 529.0 L410 539.0 M150 538.0 L410 548.0 M150 547.0 L410 557.0" fill="none" stroke="#eae8e3" stroke-width="0.6"/>
<path d="M150.0 462.0 L186.0 520.0 M157.0 459.0 L193.0 517.0 M164.0 456.0 L200.0 514.0 M171.0 453.0 L207.0 511.0 M178.0 450.0 L214.0 508.0 M185.0 447.0 L221.0 505.0 M192.0 444.0 L228.0 502.0 M199.0 441.0 L235.0 499.0 M140.0 486.0 L196.0 446.0 M144.0 494.0 L197.0 455.0 M148.0 502.0 L198.0 464.0 M152.0 510.0 L199.0 473.0 M156.0 518.0 L200.0 482.0 M160.0 526.0 L201.0 491.0 M164.0 534.0 L202.0 500.0" fill="none" stroke="#ebe9e4" stroke-width="0.5"/>
<path d="M123.8 454.4 L130.4 456.4" stroke="#f6f6f4" stroke-width="1.6" fill="none"/>
<path d="M130 463 Q115 475 107 486 M112 488 Q110 512 118 524 M126 538 V546" stroke="#e3eaf4" stroke-width="0.7" fill="none"/>
<g fill="none" stroke="#f5ecae" stroke-width="1.4" stroke-linejoin="round"><path d="M228.8 426.3 L241 428 L275 436.4 L292.5 440.8 L302 443.4"/><path d="M228.8 426.3 L223.8 435 L212.5 447.5 L202.5 458.8"/><path d="M230 452 Q236 449 241 452.6 Q243.6 456 243 461 L242.5 470.6"/><path d="M200 470.6 H300 L406 474"/><path d="M180 460 L200 466 L222 478.8 L247 481 L300 482.6 L340 484"/><path d="M247.4 470 V551"/><path d="M225 497.5 L212.5 530 L206 552"/><path d="M242.5 508 H268.8 L281 513.8"/><path d="M242.5 482 V508"/><path d="M287.5 486 L284.6 500 L281 513.8 L275 538.8 L270 552"/><path d="M226 534 H252.5 L255 545"/><path d="M237.5 547.5 L300 549.6 L350 540 L406 547"/><path d="M281 513.8 Q290 506 300 505 L320 505"/><path d="M275 538.8 L300 546"/><path d="M300 442.5 L296 452 L295 466 L297 482"/><path d="M250 429.5 L275.8 436"/><path d="M305.4 443.7 L318 453 L335 456.5 L341 470"/><path d="M383 466 L406 468"/><path d="M384 466 L381 480"/><path d="M300 482 L312 500 L318 520 L322 553"/><path d="M312 536 L330 539 L345 540 L368 524 L406 523"/><path d="M350 494 L348 520 L350 540"/><path d="M386 500 L392 512 L398 530 L402 553"/><path d="M368 524 L372 540 L380 548 L406 552"/><path d="M378 500 L380 524"/><path d="M300 553 L322 546 L345 550"/><path d="M200 487.5 L187 502 L175 517.5 L180 521 L200 523.6"/><path d="M177.5 541.6 L190 541 L206 545"/><path d="M175 517.5 L176 528 L178 541"/></g>
<path d="M315.4 414 L310 432 L305 452 L300 469.5" fill="none" stroke="#f2ad3c" stroke-width="1.9"/>
<path d="M313.6 421 L311.4 428 M307.6 441 L306 448 M303.6 456 L301.6 464" fill="none" stroke="#c98a22" stroke-width="1.5"/>
<path d="M304.6 442.4 h3.4 l-1.7 2.8z" fill="#e84a6a"/><circle cx="306.3" cy="442.6" r="1.6" fill="#ec5a78"/>
<path d="M280.4 513.2 h4 l-2 3z" fill="#3f7fd8"/><circle cx="282.4" cy="513.4" r="1.9" fill="#3f7fd8"/>
<circle cx="321.6" cy="436.2" r="0.9" fill="#5b8fe0"/>
<rect x="255.4" y="469.0" width="5.2" height="3.2" rx="0.6" fill="#f4f4f0" stroke="#9a9a96" stroke-width="0.5"/>
<rect x="322.8" y="533.8" width="5.2" height="3.2" rx="0.6" fill="#f4f4f0" stroke="#9a9a96" stroke-width="0.5"/>
<rect x="368.8" y="522.0" width="5.2" height="3.2" rx="0.6" fill="#f4f4f0" stroke="#9a9a96" stroke-width="0.5"/>
<g font-size="3" fill="#8a7f3c"><text x="231" y="426.6" transform="rotate(8 231 426.6)">八德路</text><text x="277" y="437.8" transform="rotate(14 277 437.8)">八德路</text><text x="203" y="433.6">安平</text><text x="233" y="471.6">中華路</text><text x="316" y="453.4" transform="rotate(20 316 453.4)">民族路</text><text x="357" y="529" transform="rotate(-28 357 529)">永華路</text><text x="386" y="467.6">東光路</text><text x="356" y="545" transform="rotate(-12 356 545)">健康路</text></g>
<text x="366" y="428.4" font-size="3.4" fill="#6e8cb4">鹽水溪</text>
<g><rect x="213.9" y="436.4" width="29" height="12.2" fill="#fff" opacity="0.8"/><rect x="214.4" y="436.9" width="28" height="11.2" fill="#2a2a9c"/><text x="216.8" y="444.5" font-size="3.2" fill="#f4f4ff">安平</text><text x="224.4" y="441.4" font-size="3.2" fill="#f4f4ff">風速</text><text x="232.6" y="441.4" font-size="3.2" fill="#f4f4ff">1.1</text><text x="224.4" y="446.6" font-size="3.2" fill="#f4f4ff">噪音</text><text x="232.6" y="446.6" font-size="3.2" fill="#f0305a">62.2</text></g>
<g><rect x="202.0" y="456.4" width="29" height="12.2" fill="#fff" opacity="0.8"/><rect x="202.5" y="456.9" width="28" height="11.2" fill="#2a2a9c"/><text x="204.9" y="464.5" font-size="3.2" fill="#f4f4ff">五期</text><text x="212.5" y="461.4" font-size="3.2" fill="#f4f4ff">風速</text><text x="220.7" y="461.4" font-size="3.2" fill="#f4f4ff">0.3</text><text x="212.5" y="466.6" font-size="3.2" fill="#f4f4ff">噪音</text><text x="220.7" y="466.6" font-size="3.2" fill="#f0305a">53.2</text></g>
<g><rect x="194.3" y="469.9" width="29" height="12.2" fill="#fff" opacity="0.8"/><rect x="194.8" y="470.4" width="28" height="11.2" fill="#2a2a9c"/><text x="197.2" y="478.0" font-size="3.2" fill="#f4f4ff">南區</text><text x="204.8" y="474.9" font-size="3.2" fill="#f4f4ff">風速</text><text x="213.0" y="474.9" font-size="3.2" fill="#f4f4ff">0.6</text><text x="204.8" y="480.1" font-size="3.2" fill="#f4f4ff">噪音</text><text x="213.0" y="480.1" font-size="3.2" fill="#f0305a">57.6</text></g>
<g><rect x="223.9" y="484.7" width="29" height="12.2" fill="#fff" opacity="0.8"/><rect x="224.4" y="485.2" width="28" height="11.2" fill="#2a2a9c"/><text x="226.8" y="492.8" font-size="3.2" fill="#f4f4ff">新安</text><text x="234.4" y="489.7" font-size="3.2" fill="#f4f4ff">風速</text><text x="242.6" y="489.7" font-size="3.2" fill="#f4f4ff">2.1</text><text x="234.4" y="494.9" font-size="3.2" fill="#f4f4ff">噪音</text><text x="242.6" y="494.9" font-size="3.2" fill="#f0305a">66.2</text></g>
<g><rect x="283.5" y="470.2" width="29" height="12.2" fill="#fff" opacity="0.8"/><rect x="284.0" y="470.7" width="28" height="11.2" fill="#2a2a9c"/><text x="286.4" y="478.3" font-size="3.2" fill="#f4f4ff">福隆</text><text x="294.0" y="475.2" font-size="3.2" fill="#f4f4ff">風速</text><text x="302.2" y="475.2" font-size="3.2" fill="#f4f4ff">1.1</text><text x="294.0" y="480.4" font-size="3.2" fill="#f4f4ff">噪音</text><text x="302.2" y="480.4" font-size="3.2" fill="#f0305a">65.5</text></g>
<g><rect x="177.6" y="525.8" width="29" height="12.2" fill="#fff" opacity="0.8"/><rect x="178.1" y="526.3" width="28" height="11.2" fill="#2a2a9c"/><text x="180.5" y="533.9" font-size="3.2" fill="#f4f4ff">漁港</text><text x="188.1" y="530.8" font-size="3.2" fill="#f4f4ff">風速</text><text x="196.3" y="530.8" font-size="3.2" fill="#f4f4ff">1.4</text><text x="188.1" y="536.0" font-size="3.2" fill="#f4f4ff">噪音</text><text x="196.3" y="536.0" font-size="3.2" fill="#f0305a">70.0</text></g>
<circle cx="116" cy="425.8" r="7" fill="#fdfdfd" stroke="#b8b8b8" stroke-width="0.8"/>
<path d="M114.4 422 l1.6 -1.6 l1.6 1.6 M114.4 429.6 l1.6 1.6 l1.6 -1.6 M112.2 424.2 l-1.6 1.6 l1.6 1.6 M119.8 424.2 l1.6 1.6 l-1.6 1.6" fill="none" stroke="#9a9a9a" stroke-width="0.8"/>
<rect x="113.6" y="438.8" width="4.8" height="9.6" rx="1.6" fill="#f2f2f2" stroke="#c8c8c8" stroke-width="0.5"/>
<circle cx="116" cy="441.2" r="1.2" fill="#f29a1f"/><rect x="114.9" y="442.4" width="2.2" height="4.6" rx="0.8" fill="#f29a1f"/>
<rect x="115.2" y="456" width="1.6" height="52" fill="#c9c9c9" stroke="#a8a8a8" stroke-width="0.3"/>
<rect x="113.6" y="452" width="4.8" height="4.8" rx="0.6" fill="#fafafa" stroke="#a8a8a8" stroke-width="0.5"/>
<rect x="113.6" y="506.6" width="4.8" height="4.8" rx="0.6" fill="#fafafa" stroke="#a8a8a8" stroke-width="0.5"/>
<rect x="113.2" y="474.8" width="5.6" height="2.4" rx="0.6" fill="#fafafa" stroke="#a0a0a0" stroke-width="0.5"/>
<text x="120.5" y="438.4" font-size="2.6" fill="#8fa0b8">安平<tspan x="120.5" dy="3.4">Anping</tspan></text>
<rect x="129.4" y="425.2" width="35.2" height="62.4" rx="2.4" fill="#ffffff" fill-opacity="0.12" stroke="#5a5a5a" stroke-width="0.7"/>
<path d="M129.6 434.6 H164.4" stroke="#6a6a6a" stroke-width="0.5"/>
<rect x="146.2" y="464.4" width="17.8" height="4.6" fill="#fbf400"/>
<circle cx="148.2" cy="465.4" r="1.7" fill="#e0203a"/><circle cx="148.2" cy="465.2" r="0.6" fill="#fff"/>
<path d="M148.2 427.6 l1.8 1.6 v2.4 h-3.6 v-2.4z" fill="#2f6fd0"/>
<g font-size="3.5" font-weight="bold" fill="#111" stroke="#111" stroke-width="0.2"><text x="130.6" y="431.6">測站</text><text x="130.6" y="439.4">模式</text><text x="146.4" y="439.4" fill="#111">紀錄中</text><text x="130.6" y="445">電池容量</text><text x="146.4" y="445" fill="#1c7a1c">80%</text><text x="130.6" y="450.6">電池狀態</text><text x="146.4" y="450.6" fill="#1c7a1c">良好</text><text x="130.6" y="456.2">充電狀態</text><text x="146.4" y="456.2" fill="#1c7a1c">充電中</text><text x="130.6" y="461.8">校正情形</text><text x="146.4" y="461.8" fill="#111">良好</text><text x="130.6" y="467.6">記憶體</text><text x="130.6" y="473.6" textLength="13" lengthAdjust="spacingAndGlyphs">GSM狀態</text><text x="146.4" y="473.6" fill="#111">0</text><text x="130.6" y="479.4" textLength="13" lengthAdjust="spacingAndGlyphs">GSM訊號</text><text x="146.4" y="479.4" fill="#111">0</text><text x="130.6" y="485.2" textLength="13" lengthAdjust="spacingAndGlyphs">麥克風靈敏度</text><text x="146.4" y="485.2" fill="#111">-48.00</text><text x="153" y="431.6">臺南</text></g>
<rect x="373" y="415.4" width="31" height="4.8" fill="#fdfdfd" stroke="#8a8a8a" stroke-width="0.5"/>
<path d="M384.4 415.4 V420.2" stroke="#8a8a8a" stroke-width="0.5"/>
<text x="375.2" y="419.5" font-size="4" font-weight="bold" fill="#111">地圖</text>
<text x="386.4" y="419.4" font-size="3.8" fill="#222">衛星地形</text>
<text x="339.4" y="551.6" font-size="3.7" fill="#555" textLength="64" lengthAdjust="spacingAndGlyphs">地圖資料©2013 Google, Kingway - 使用條款</text>
<text x="105.6" y="551.4" font-size="6.4" font-weight="bold" fill="#e9edf3" stroke="#9fb2cc" stroke-width="0.25" textLength="16" lengthAdjust="spacingAndGlyphs">Google</text>
</g></g>
<rect x="104" y="414" width="302.5" height="139" fill="none" stroke="#0f65c3" stroke-width="2"/>
<radialGradient id="gScr" cx="0.5" cy="0.5" r="0.62"><stop offset="0" stop-color="#fbfcfe"/><stop offset="0.55" stop-color="#d5dff0"/><stop offset="1" stop-color="#aebfdf"/></radialGradient>
<path d="M347.4 490.6 L358 486 L389.4 497.6 L389.4 499.6 L374.8 508 L347.4 492.6 Z" fill="#f8f8f8" stroke="#050505" stroke-width="1.5" stroke-linejoin="round"/>
<path d="M348 490.8 L374.8 505.6 L389 498" fill="none" stroke="#a0a0a0" stroke-width="0.6"/>
<path d="M340.8 449 Q340.8 447.6 342 446.6 L345 444.6 Q346.2 443.8 347.6 444.4 Q366 452 381.4 463.6 Q382.6 464.6 382.6 466.2 L382.6 497 Q382.6 498.6 381 499 L378 499.8 Q376.6 500 375.4 499.4 L341.8 482 Q340.8 481.4 340.8 480 Z" fill="#f4f4f4" stroke="#050505" stroke-width="1.6" stroke-linejoin="round"/>
<path d="M379.6 466.6 L382 465.4 L382 497.4 L379.6 499 Z" fill="#b8b8b8"/>
<path d="M342 448.8 Q362 457 379.4 466.8 L379.4 499" fill="none" stroke="#8a8a8a" stroke-width="0.7"/>
<path d="M343.4 451 Q360 457.6 375.6 466.6 L375.6 495.6 L343.4 479 Z" fill="#d0d0d0" stroke="#8a8a8a" stroke-width="0.5"/>
<path d="M344.8 453 Q360 459.2 373.6 467.6 L373.6 493.4 L344.8 477.8 Z" fill="url(#gScr)" stroke="#7a7a7a" stroke-width="0.7"/>
<radialGradient id="gHa" cx="0.5" cy="0.5" r="0.55"><stop offset="0" stop-color="#c0d3ea"/><stop offset="0.5" stop-color="#82b0dc"/><stop offset="1" stop-color="#5c98d2"/></radialGradient>
<radialGradient id="gBa" cx="0.5" cy="0.5" r="0.6"><stop offset="0" stop-color="#bccfe8"/><stop offset="0.5" stop-color="#7eabd8"/><stop offset="1" stop-color="#5892cc"/></radialGradient>
<g transform="translate(331,492.8) scale(1.0)">
<path d="M-9.4 7 C-15.5 10 -19.2 15.5 -19.6 23.6 L-19.4 30.4 Q-18.8 33 -16.4 33.8 L-15.4 35 Q-8 39.4 4 40 Q11 39.8 14.6 38 L16.4 38.2 Q18.8 36.2 19.2 31 L19.2 23.6 C18.8 15.5 15.4 10 9.4 7 Z" fill="url(#gBa)" stroke="#050505" stroke-width="2.1" stroke-linejoin="round"/>
<path d="M-14 13.4 Q-16.4 22 -15 33 M11.4 15 Q14.4 25 13.8 37" fill="none" stroke="#5f7183" stroke-width="1.1" opacity="0.75"/>
<ellipse cx="0" cy="0" rx="11.3" ry="10.9" fill="url(#gHa)" stroke="#050505" stroke-width="2.1"/>
<path d="M-8.6 7.1 Q0 14.6 8.6 7.1" fill="none" stroke="#55677b" stroke-width="2.1"/>
</g>
<radialGradient id="gHb" cx="0.5" cy="0.5" r="0.55"><stop offset="0" stop-color="#c0d3ea"/><stop offset="0.5" stop-color="#82b0dc"/><stop offset="1" stop-color="#5c98d2"/></radialGradient>
<radialGradient id="gBb" cx="0.5" cy="0.5" r="0.6"><stop offset="0" stop-color="#bccfe8"/><stop offset="0.5" stop-color="#7eabd8"/><stop offset="1" stop-color="#5892cc"/></radialGradient>
<g transform="translate(635,481.2) scale(1.0)">
<path d="M-9.4 7 C-15.5 10 -19.2 15.5 -19.6 23.6 L-19.4 30.4 Q-18.8 33 -16.4 33.8 L-15.4 35 Q-8 39.4 4 40 Q11 39.8 14.6 38 L16.4 38.2 Q18.8 36.2 19.2 31 L19.2 23.6 C18.8 15.5 15.4 10 9.4 7 Z" fill="url(#gBb)" stroke="#050505" stroke-width="2.1" stroke-linejoin="round"/>
<path d="M-14 13.4 Q-16.4 22 -15 33 M11.4 15 Q14.4 25 13.8 37" fill="none" stroke="#5f7183" stroke-width="1.1" opacity="0.75"/>
<ellipse cx="0" cy="0" rx="11.3" ry="10.9" fill="url(#gHb)" stroke="#050505" stroke-width="2.1"/>
<path d="M-8.6 7.1 Q0 14.6 8.6 7.1" fill="none" stroke="#55677b" stroke-width="2.1"/>
</g>
<radialGradient id="gScr2" cx="0.5" cy="0.5" r="0.62"><stop offset="0" stop-color="#fbfcfe"/><stop offset="0.55" stop-color="#d9e2f1"/><stop offset="1" stop-color="#b4c4e2"/></radialGradient>
<path d="M670 477.4 Q670.4 475 672.8 474.4 L691 484.2 Q692.6 485.4 692.6 487 L692.6 518.6 Q692.4 521 690 521.4 L671.4 511.4 Q670 510.6 670 509 Z" fill="#f3f3f3" stroke="#050505" stroke-width="1.2" stroke-linejoin="round"/>
<path d="M689.6 485.6 L692 487.4 L692 518.4 L689.6 520.6 Z" fill="#bdbdbd"/>
<path d="M673.1 480.2 L686.9 487.6 L686.9 515 L673.1 507.4 Z" fill="url(#gScr2)" stroke="#7a7a7a" stroke-width="0.6"/>
<circle cx="684" cy="517" r="0.8" fill="#2f6f3a"/>
<path d="M660 485.4 Q658.8 486.6 660 487.9 L671.4 490.5 L677.6 490.6 L672 488 Z" fill="#fafafa" stroke="#050505" stroke-width="1.3" stroke-linejoin="round"/>
<path d="M671.4 488.6 L677.2 490.4" stroke="#777" stroke-width="1"/>
</svg>
</body></html>
